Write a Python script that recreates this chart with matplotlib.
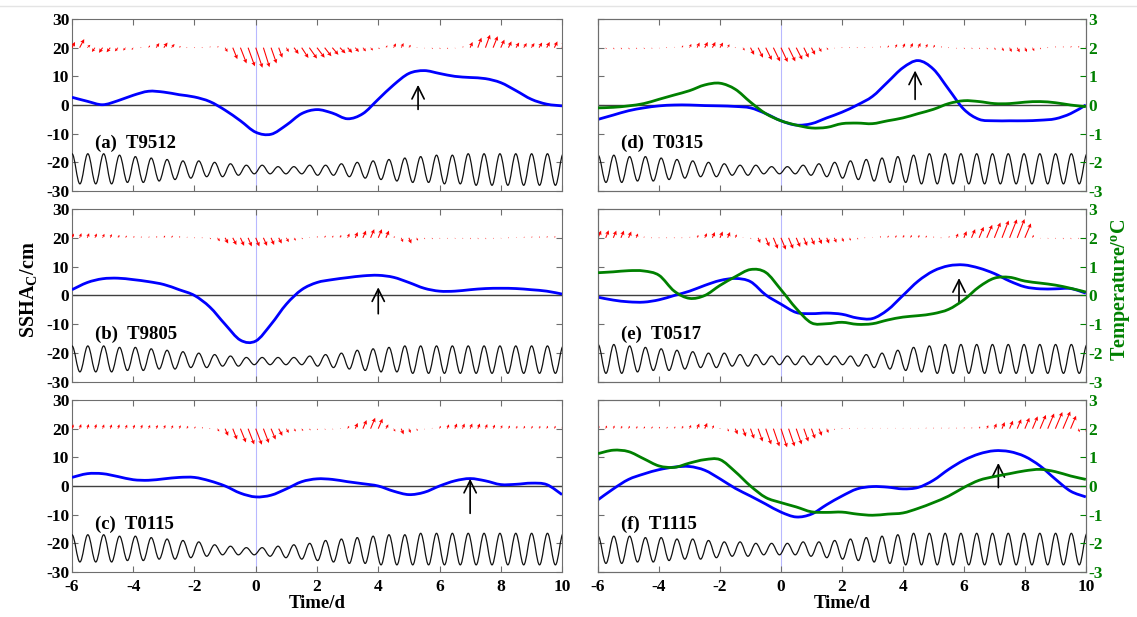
"""
台风过境期间 SSHA_C、风场、潮位与温度时间序列
"""
import numpy as np
import matplotlib
matplotlib.use('Agg')
import matplotlib.pyplot as plt
from matplotlib.path import Path
from matplotlib.patches import PathPatch

plt.rcParams['font.family'] = ['Liberation Serif', 'DejaVu Serif']
plt.rcParams['font.weight'] = 'bold'
plt.rcParams['axes.unicode_minus'] = False
plt.rcParams['mathtext.fontset'] = 'custom'
plt.rcParams['mathtext.rm'] = 'Liberation Serif:bold'
plt.rcParams['mathtext.bf'] = 'Liberation Serif:bold'

# ---------------- 数据 ----------------
labels = ['(a)  T9512', '(b)  T9805', '(c)  T0115',
          '(d)  T0315', '(e)  T0517', '(f)  T1115']

# SSHA_C (cm)，时间 -6 ~ 10 d，间隔 0.5 d
t_half = np.arange(-6, 10.01, 0.5)
ssha_a = [2.7, 1.3, 0.1, 1.5, 3.4, 4.8, 4.5, 3.6, 2.8, 1.2, -1.8, -5.5, -9.5, -10.2, -7.0, -3.0, -1.6,
          -2.8, -4.8, -3.0, 2.0, 7.0, 11.0, 12.0, 11.0, 10.0, 9.6, 9.2, 7.8, 5.0, 2.0, 0.3, -0.3]
ssha_b = [2.0, 4.5, 5.8, 6.0, 5.5, 4.8, 3.8, 2.0, 0.0, -4.0, -10.0, -15.5, -15.8, -10.0, -3.0, 2.0, 4.5,
          5.5, 6.2, 6.8, 7.0, 6.3, 4.5, 2.5, 1.5, 1.5, 2.0, 2.4, 2.5, 2.4, 2.0, 1.5, 0.5]
ssha_c = [3.0, 4.3, 4.3, 3.3, 2.2, 2.0, 2.5, 3.0, 3.0, 1.8, 0.0, -2.5, -3.8, -3.2, -1.0, 1.5, 2.5,
          2.3, 1.5, 0.8, 0.0, -1.8, -3.0, -2.2, 0.0, 1.8, 2.6, 1.8, 0.5, 0.6, 1.0, 0.5, -3.0]
ssha_d = [-5.0, -3.5, -2.0, -1.0, -0.3, 0.0, 0.0, -0.2, -0.3, -0.5, -1.0, -3.0, -5.5, -7.0, -6.5, -4.5, -2.5,
          0.0, 3.0, 8.0, 13.0, 15.5, 12.5, 5.5, -1.5, -5.0, -5.5, -5.5, -5.5, -5.3, -4.8, -3.0, 0.0]
ssha_e = [-0.6, -1.6, -2.2, -2.3, -1.5, 0.0, 1.5, 3.5, 5.2, 5.9, 4.8, 0.2, -3.0, -5.9, -6.3, -6.1, -6.5,
          -7.8, -8.0, -5.0, 0.0, 5.0, 8.5, 10.3, 10.6, 9.5, 7.6, 5.0, 3.0, 2.3, 2.3, 2.4, 0.8]
ssha_f = [-4.8, -1.0, 2.3, 4.2, 5.7, 6.6, 6.8, 5.5, 2.5, -0.8, -3.5, -6.3, -9.1, -10.8, -9.8, -6.5, -3.5,
          -1.0, -0.2, -0.4, -1.0, -0.5, 2.0, 5.8, 9.0, 11.2, 12.3, 12.0, 10.3, 7.0, 2.4, -1.8, -3.8]

# 温度距平 (°C)，仅 (d)(e)(f)
temp_d = [-0.10, -0.08, -0.03, 0.05, 0.20, 0.35, 0.50, 0.70, 0.76, 0.55, 0.10, -0.30, -0.55, -0.70, -0.80, -0.78, -0.65,
          -0.63, -0.65, -0.55, -0.45, -0.30, -0.15, 0.05, 0.15, 0.12, 0.05, 0.05, 0.10, 0.12, 0.08, 0.00, -0.06]
temp_e = [0.79, 0.82, 0.86, 0.85, 0.70, 0.15, -0.10, 0.00, 0.35, 0.65, 0.90, 0.80, 0.20, -0.45, -0.95, -0.98, -0.93,
          -1.00, -0.98, -0.85, -0.75, -0.70, -0.63, -0.48, -0.15, 0.30, 0.60, 0.63, 0.50, 0.43, 0.36, 0.25, 0.12]
temp_f = [1.13, 1.25, 1.20, 0.95, 0.70, 0.65, 0.80, 0.92, 0.92, 0.50, 0.00, -0.40, -0.58, -0.73, -0.90, -0.92, -0.91,
          -0.98, -1.02, -0.98, -0.94, -0.78, -0.58, -0.35, -0.05, 0.20, 0.33, 0.43, 0.53, 0.58, 0.50, 0.35, 0.23]

# 风矢量 (以 y=20 为基线)，间隔 0.25 d
t_wind = np.arange(-6, 10.01, 0.25)
wind_v_a = [2.0, 3.0, 1.0, -1.5, -1.8, -1.6, -1.3, -1.0,
            -0.8, -0.3, 0.8, 1.6, 1.8, 1.3, 0.6, 0.2,
            0.2, 0.3, 0.5, 0.6, -1.5, -4.0, -5.5, -6.5,
            -7.0, -6.8, -5.5, -3.5, -1.5, -2.2, -3.6, -3.8,
            -3.5, -3.0, -2.5, -2.0, -1.8, -1.5, -1.3, -1.0,
            -0.5, 0.8, 1.5, 1.6, 1.0, 0.2, -0.3, -0.5,
            -0.5, -0.5, -0.3, 0.5, 2.0, 3.5, 4.5, 4.0,
            2.8, 2.2, 1.8, 1.6, 1.6, 1.8, 2.0, 2.2,
            2.5]
wind_u_a = [0.10, 0.15, 0.10, -0.10, -0.12, -0.12, -0.10, -0.08,
            -0.05, 0.00, 0.05, 0.10, 0.12, 0.10, 0.05, 0.02,
            0.00, 0.00, 0.02, 0.03, 0.08, 0.15, 0.20, 0.22,
            0.22, 0.20, 0.18, 0.12, 0.08, 0.15, 0.22, 0.25,
            0.25, 0.22, 0.20, 0.18, 0.15, 0.12, 0.10, 0.08,
            0.05, 0.05, 0.08, 0.08, 0.06, 0.03, 0.02, 0.03,
            0.03, 0.03, 0.02, 0.03, 0.08, 0.12, 0.15, 0.15,
            0.12, 0.10, 0.10, 0.10, 0.10, 0.10, 0.10, 0.10,
            0.10]
wind_v_b = [1.5, 1.6, 1.6, 1.5, 1.4, 1.3, 1.0, 0.8,
            0.6, 0.5, 0.5, 0.6, 0.8, 0.8, 0.6, 0.4,
            0.2, 0.0, -0.5, -1.2, -2.0, -2.5, -2.8, -3.0,
            -3.0, -2.8, -2.5, -2.0, -1.5, -1.0, -0.5, 0.3,
            0.6, 0.8, 0.8, 1.0, 1.5, 2.0, 2.5, 3.0,
            3.0, 2.5, 0.5, -1.5, -2.0, -1.0, -0.5, -0.5,
            -0.4, -0.4, -0.4, -0.4, -0.5, -0.5, -0.5, -0.4,
            -0.3, -0.2, 0.3, 0.4, 0.5, 0.5, 0.6, 0.6,
            0.6]
wind_u_b = [0.06, 0.06, 0.06, 0.06, 0.06, 0.05, 0.05, 0.04,
            0.04, 0.03, 0.03, 0.03, 0.04, 0.04, 0.03, 0.02,
            0.01, 0.00, 0.04, 0.08, 0.10, 0.12, 0.12, 0.12,
            0.12, 0.12, 0.10, 0.10, 0.08, 0.06, 0.04, 0.02,
            0.02, 0.03, 0.03, 0.04, 0.06, 0.08, 0.10, 0.12,
            0.12, 0.10, 0.05, 0.06, 0.08, 0.05, 0.03, 0.03,
            0.02, 0.02, 0.02, 0.02, 0.02, 0.02, 0.02, 0.02,
            0.02, 0.02, 0.02, 0.03, 0.03, 0.03, 0.03, 0.03,
            0.03]
wind_v_c = [1.5, 1.6, 1.6, 1.6, 1.5, 1.5, 1.5, 1.4,
            1.4, 1.4, 1.3, 1.3, 1.3, 1.2, 1.2, 1.0,
            0.8, 0.6, 0.2, -1.0, -2.5, -3.8, -4.8, -5.5,
            -5.6, -5.0, -3.8, -2.5, -1.5, -1.0, -0.8, -0.6,
            -0.5, -0.4, -0.3, 0.2, 1.0, 2.0, 3.0, 3.8,
            3.5, 1.5, -1.0, -2.0, -1.5, -0.8, -0.3, 0.3,
            1.0, 1.5, 1.8, 1.8, 1.8, 1.8, 1.6, 1.4,
            1.2, 1.1, 1.0, 1.0, 1.0, 1.0, 1.0, 1.0,
            1.0]
wind_u_c = [0.05, 0.05, 0.05, 0.05, 0.05, 0.05, 0.05, 0.05,
            0.05, 0.05, 0.05, 0.05, 0.05, 0.05, 0.05, 0.04,
            0.03, 0.02, 0.02, 0.06, 0.10, 0.14, 0.18, 0.20,
            0.20, 0.18, 0.15, 0.12, 0.08, 0.06, 0.05, 0.04,
            0.03, 0.03, 0.03, 0.03, 0.05, 0.08, 0.12, 0.15,
            0.14, 0.08, 0.06, 0.08, 0.06, 0.04, 0.02, 0.02,
            0.04, 0.06, 0.07, 0.07, 0.07, 0.07, 0.06, 0.06,
            0.05, 0.05, 0.04, 0.04, 0.04, 0.04, 0.04, 0.04,
            0.04]
wind_v_d = [-0.5, -0.5, -0.6, -0.6, -0.6, -0.5, -0.5, -0.4,
            -0.3, -0.2, 0.3, 0.8, 1.3, 1.8, 2.0, 2.0,
            1.8, 1.2, 0.2, -1.0, -2.5, -3.5, -4.3, -4.8,
            -5.0, -4.8, -4.2, -3.5, -2.5, -1.5, -0.8, -0.3,
            0.0, 0.0, 0.1, 0.2, 0.3, 0.5, 0.8, 1.2,
            1.5, 1.6, 1.6, 1.3, 1.0, 0.5, 0.0, -0.4,
            -0.5, -0.5, -0.5, -0.6, -0.8, -1.2, -1.5, -1.6,
            -1.5, -1.2, -0.6, 0.2, 0.5, 0.5, 0.6, 0.6,
            0.7]
wind_u_d = [0.03, 0.03, 0.03, 0.03, 0.03, 0.03, 0.03, 0.03,
            0.02, 0.02, 0.02, 0.04, 0.06, 0.08, 0.10, 0.10,
            0.10, 0.06, 0.02, 0.06, 0.12, 0.16, 0.20, 0.22,
            0.22, 0.22, 0.20, 0.16, 0.12, 0.08, 0.05, 0.02,
            0.01, 0.01, 0.01, 0.02, 0.02, 0.03, 0.04, 0.06,
            0.07, 0.08, 0.08, 0.06, 0.05, 0.03, 0.01, 0.02,
            0.03, 0.03, 0.03, 0.03, 0.04, 0.06, 0.07, 0.08,
            0.07, 0.06, 0.03, 0.01, 0.02, 0.02, 0.03, 0.03,
            0.03]
wind_v_e = [2.5, 2.6, 2.5, 2.5, 2.2, 1.5, 0.5, 0.2,
            0.1, 0.0, -0.1, 0.1, 0.4, 1.0, 1.6, 2.0,
            2.2, 2.0, 1.2, 0.3, -0.5, -1.8, -3.0, -3.8,
            -4.1, -3.8, -3.2, -2.8, -2.5, -2.2, -2.0, -1.7,
            -1.4, -1.0, -0.6, -0.2, 0.3, 0.6, 0.8, 0.9,
            1.0, 1.0, 1.0, 0.8, 0.5, 0.2, 0.6, 1.5,
            2.3, 3.0, 3.8, 4.5, 5.3, 6.0, 6.4, 6.5,
            5.0, 1.0, -0.3, -0.4, -0.4, -0.5, -0.5, -0.4,
            -0.4]
wind_u_e = [0.10, 0.10, 0.10, 0.10, 0.09, 0.06, 0.02, 0.01,
            0.01, 0.00, 0.00, 0.01, 0.02, 0.04, 0.07, 0.08,
            0.09, 0.08, 0.05, 0.01, 0.02, 0.07, 0.12, 0.15,
            0.16, 0.15, 0.13, 0.11, 0.10, 0.09, 0.08, 0.07,
            0.06, 0.04, 0.03, 0.01, 0.01, 0.03, 0.03, 0.04,
            0.04, 0.04, 0.04, 0.03, 0.02, 0.01, 0.03, 0.06,
            0.09, 0.12, 0.15, 0.18, 0.20, 0.22, 0.24, 0.24,
            0.20, 0.04, 0.01, 0.02, 0.02, 0.02, 0.02, 0.02,
            0.02]
wind_v_f = [1.0, 1.1, 1.1, 1.0, 1.0, 0.9, 0.8, 0.8,
            0.7, 0.7, 0.8, 1.0, 1.3, 1.8, 2.0, 1.2,
            0.0, -1.0, -2.0, -2.8, -3.5, -4.5, -5.5, -6.2,
            -6.5, -6.2, -5.5, -4.5, -3.5, -2.5, -1.5, -0.5,
            0.0, 0.2, 0.3, 0.3, 0.3, 0.3, 0.3, 0.3,
            0.3, 0.3, 0.3, 0.4, 0.4, 0.4, 0.4, 0.4,
            0.5, 0.5, 0.8, 1.2, 1.8, 2.3, 2.8, 3.3,
            3.8, 4.3, 4.8, 5.3, 5.8, 6.0, 4.5, -1.2,
            -1.5]
wind_u_f = [0.04, 0.04, 0.04, 0.04, 0.04, 0.04, 0.04, 0.04,
            0.03, 0.03, 0.03, 0.04, 0.05, 0.07, 0.08, 0.05,
            0.00, 0.04, 0.08, 0.10, 0.12, 0.15, 0.18, 0.20,
            0.20, 0.20, 0.18, 0.15, 0.12, 0.09, 0.06, 0.02,
            0.00, 0.01, 0.01, 0.01, 0.01, 0.01, 0.01, 0.01,
            0.01, 0.01, 0.01, 0.02, 0.02, 0.02, 0.02, 0.02,
            0.02, 0.02, 0.03, 0.05, 0.07, 0.09, 0.11, 0.13,
            0.15, 0.17, 0.19, 0.21, 0.23, 0.24, 0.18, 0.05,
            0.06]

# 潮位极值 (高潮 / 低潮，单位同左轴，基线约 -22)
tide_hi_a = [-17, -17, -17, -17.5, -18, -18.5, -19, -19.5, -19.5, -20, -20.5, -21, -21, -21.5, -21.5, -21,
             -21, -20.5, -20, -19.5, -19, -18.5, -18, -17.5, -17.5, -17, -17, -17, -17, -17, -17, -17]
tide_lo_a = [-27.5, -27.5, -27.5, -27, -27, -26.5, -26, -25.5, -25, -25, -24.5, -24, -24, -24, -24, -24.5,
             -24.5, -25, -25.5, -26, -26.5, -27, -27, -27.5, -27.5, -28, -28, -28, -28, -28, -28]
tide_hi_b = [-17.5, -17.5, -17.5, -18, -18, -18.5, -19, -19.5, -20, -20.5, -21, -21.5, -21.5, -21.5, -21.5, -21,
             -20.5, -20, -19, -18.5, -18, -17.5, -17.5, -17.5, -17.5, -17.5, -17.5, -17.5, -17.5, -17.5, -17.5, -17.5]
tide_lo_b = [-26.5, -26.5, -26.5, -26, -26, -25.5, -25.5, -25, -25, -24.5, -24.5, -24, -24, -24, -24, -24.5,
             -25, -25.5, -26, -26.5, -26.5, -27, -27, -27, -27, -27, -27, -27, -27, -27, -27]
tide_hi_c = [-17, -17, -17, -17.5, -17.5, -18, -18.5, -19, -19.5, -20.5, -21, -21.5, -21.5, -21, -20.5, -20,
             -19, -18.5, -18, -17.5, -17, -17, -16.5, -16.5, -16.5, -16.5, -16.5, -16.5, -16.5, -16.5, -16.5, -16.5]
tide_lo_c = [-26.5, -26.5, -26.5, -26, -26, -25.5, -25.5, -25, -24.5, -24, -24, -24, -24.5, -25, -25.5, -26,
             -26.5, -27, -27, -27.5, -27.5, -27.5, -27.5, -27.5, -27.5, -27.5, -27.5, -27.5, -27.5, -27.5, -27.5]
tide_hi_d = [-17.5, -17.5, -18, -18, -18.5, -19, -19.5, -20, -20.5, -21, -21, -21.5, -21.5, -21, -20.5, -20,
             -19.5, -19, -18.5, -18, -17.5, -17, -17, -17, -17, -17, -17, -17, -17, -17, -17, -17]
tide_lo_d = [-27, -27, -26.5, -26.5, -26, -25.5, -25, -25, -24.5, -24.5, -24, -24, -24, -24.5, -25, -25.5,
             -26, -26.5, -27, -27, -27.5, -27.5, -27.5, -27.5, -27.5, -27.5, -27.5, -27.5, -27.5, -27.5, -27.5]
tide_hi_e = [-17, -17, -17.5, -18, -18.5, -19, -19.5, -20, -20, -20.5, -20.5, -21, -21, -21, -21, -21,
             -21, -20.5, -20, -19, -18, -17.5, -17, -17, -17, -17, -17, -17, -17, -17, -17, -17]
tide_lo_e = [-27, -27, -26.5, -26, -26, -25.5, -25, -25, -24.5, -24.5, -24, -24, -24, -24, -24, -24,
             -24.5, -25, -25.5, -26, -26.5, -27, -27, -27, -27, -27, -27, -27, -27, -27, -27]
tide_hi_f = [-17.5, -17.5, -17.5, -18, -18, -18.5, -18.5, -19, -19.5, -19.5, -20, -20, -20, -19.5, -19.5, -19,
             -18.5, -18, -17.5, -17, -16.5, -16.5, -16.5, -16.5, -16.5, -16.5, -16.5, -16.5, -16.5, -16.5, -16.5, -16.5]
tide_lo_f = [-27, -27, -26.5, -26.5, -26, -25.5, -25.5, -25, -24.5, -24.5, -24, -24, -24, -24.5, -25, -25.5,
             -26, -26.5, -27, -27.5, -27.5, -27.5, -27.5, -27.5, -27.5, -27.5, -27.5, -27.5, -27.5, -27.5, -27.5]
tide_half_period = 12.42 / 24 / 2   # M2 半周期 (d)

# 黑色箭头：时刻、起点、终点 (cm)
arrow_t = [5.3, 4.0, 7.0, 4.4, 5.84, 7.13]
arrow_y0 = [-2.5, -7.3, -10.5, 1.0, -3.5, -1.5]
arrow_y1 = [8.0, 3.8, 3.5, 13.0, 7.0, 9.0]

ssha_all = [ssha_a, ssha_b, ssha_c, ssha_d, ssha_e, ssha_f]
temp_all = [None, None, None, temp_d, temp_e, temp_f]
wind_u_all = [wind_u_a, wind_u_b, wind_u_c, wind_u_d, wind_u_e, wind_u_f]
wind_v_all = [wind_v_a, wind_v_b, wind_v_c, wind_v_d, wind_v_e, wind_v_f]
tide_hi_all = [tide_hi_a, tide_hi_b, tide_hi_c, tide_hi_d, tide_hi_e, tide_hi_f]
tide_lo_all = [tide_lo_a, tide_lo_b, tide_lo_c, tide_lo_d, tide_lo_e, tide_lo_f]

GREEN = '#008000'
SPINE = '#6e6e6e'


def smooth_path(x, y):
    """Catmull-Rom 转三次贝塞尔，得到平滑曲线路径"""
    pts = np.column_stack([x, y]).astype(float)
    n = len(pts)
    verts = [pts[0]]
    codes = [Path.MOVETO]
    for i in range(n - 1):
        p0 = pts[i - 1] if i > 0 else pts[i]
        p1, p2 = pts[i], pts[i + 1]
        p3 = pts[i + 2] if i + 2 < n else pts[i + 1]
        verts += [p1 + (p2 - p0) / 6, p2 - (p3 - p1) / 6, p2]
        codes += [Path.CURVE4] * 3
    return Path(verts, codes)


def tide_path(hi, lo, t0=-6.0):
    """高低潮极值之间用水平切线的贝塞尔段连接"""
    ext = np.empty(len(hi) + len(lo))
    ext[0::2] = hi
    ext[1::2] = lo
    tt = t0 + np.arange(len(ext)) * tide_half_period
    k = 0.364 * tide_half_period
    verts = [(tt[0], ext[0])]
    codes = [Path.MOVETO]
    for i in range(len(ext) - 1):
        verts += [(tt[i] + k, ext[i]), (tt[i + 1] - k, ext[i + 1]), (tt[i + 1], ext[i + 1])]
        codes += [Path.CURVE4] * 3
    return Path(verts, codes)


def style_axis(ax, show_x, left_labels):
    ax.set_xlim(-6, 10)
    ax.set_ylim(-30, 30)
    ax.set_xticks(range(-6, 11, 2))
    ax.set_yticks(range(-30, 31, 10))
    ax.tick_params(direction='in', length=4, width=0.8, color=SPINE,
                   top=True, right=left_labels, labelsize=12.5)
    ax.tick_params(axis='y', pad=2)
    ax.tick_params(axis='x', pad=5)
    if not show_x:
        ax.set_xticklabels([])
    if not left_labels:
        ax.set_yticklabels([])
    for sp in ax.spines.values():
        sp.set_color(SPINE)
        sp.set_linewidth(0.8)


def draw_panel(ax, i):
    ax.axvline(0, color='#b8b8ff', lw=0.8, zorder=1)
    ax.axhline(0, color='#404040', lw=1.0, zorder=2)

    # 风矢量
    ax.quiver(t_wind, np.full(len(t_wind), 20.0), wind_u_all[i], wind_v_all[i],
              angles='xy', scale_units='xy', scale=1, color='red',
              width=0.0022, headwidth=4, headlength=4, headaxislength=3.5,
              minshaft=1.5, minlength=0.8, zorder=3)

    # 潮位
    ax.add_patch(PathPatch(tide_path(tide_hi_all[i], tide_lo_all[i]),
                           facecolor='none', edgecolor='#111111', lw=0.9, zorder=3))

    # SSHA_C
    ax.add_patch(PathPatch(smooth_path(t_half, ssha_all[i]),
                           facecolor='none', edgecolor='#0000ff', lw=2.0, zorder=4))

    ax.annotate('', xy=(arrow_t[i], arrow_y1[i]), xytext=(arrow_t[i], arrow_y0[i]),
                arrowprops=dict(arrowstyle='->', color='black', lw=1.2, mutation_scale=22),
                zorder=5)

    ax.text(-5.25, -13.5, labels[i], fontsize=13.5, fontweight='bold', va='center', ha='left')


def main():
    fig = plt.figure(figsize=(11.37, 6.17), dpi=100)

    col_x = [0.0633, 0.526]
    col_w = [0.431, 0.429]
    row_y = [0.6904, 0.3809, 0.0729]
    row_h = [0.2788, 0.2804, 0.2788]

    for i in range(6):
        col, row = divmod(i, 3)
        ax = fig.add_axes([col_x[col], row_y[row], col_w[col], row_h[row]])
        style_axis(ax, show_x=(row == 2), left_labels=(col == 0))
        draw_panel(ax, i)

        if temp_all[i] is not None:
            ax2 = ax.twinx()
            ax2.set_ylim(-3, 3)
            ax2.set_yticks(range(-3, 4))
            ax2.tick_params(direction='in', length=4, width=0.8, color=GREEN,
                            labelcolor=GREEN, labelsize=12.5, pad=2)
            for sp in ax2.spines.values():
                sp.set_color(SPINE)
                sp.set_linewidth(0.8)
            ax2.add_patch(PathPatch(smooth_path(t_half, temp_all[i]),
                                    facecolor='none', edgecolor=GREEN, lw=2.0, zorder=4))

        if row == 2:
            ax.set_xlabel('Time/d', fontsize=13.5, fontweight='bold', labelpad=0)

    fig.text(0.026, 0.53, r'SSHA$_\mathrm{C}$/cm', rotation=90, fontsize=14.5,
             fontweight='bold', ha='center', va='center')
    fig.text(0.986, 0.53, r'Temperature/$^\mathrm{o}$C', rotation=90, fontsize=14.5,
             fontweight='bold', color=GREEN, ha='center', va='center')

    # 顶部细分隔线
    fig.add_artist(plt.Line2D([0, 1], [1 - 6 / 617] * 2, color='#e4e4e4', lw=1.0,
                              transform=fig.transFigure))

    fig.savefig('out.png', dpi=100)
    plt.close(fig)


if __name__ == '__main__':
    main()
